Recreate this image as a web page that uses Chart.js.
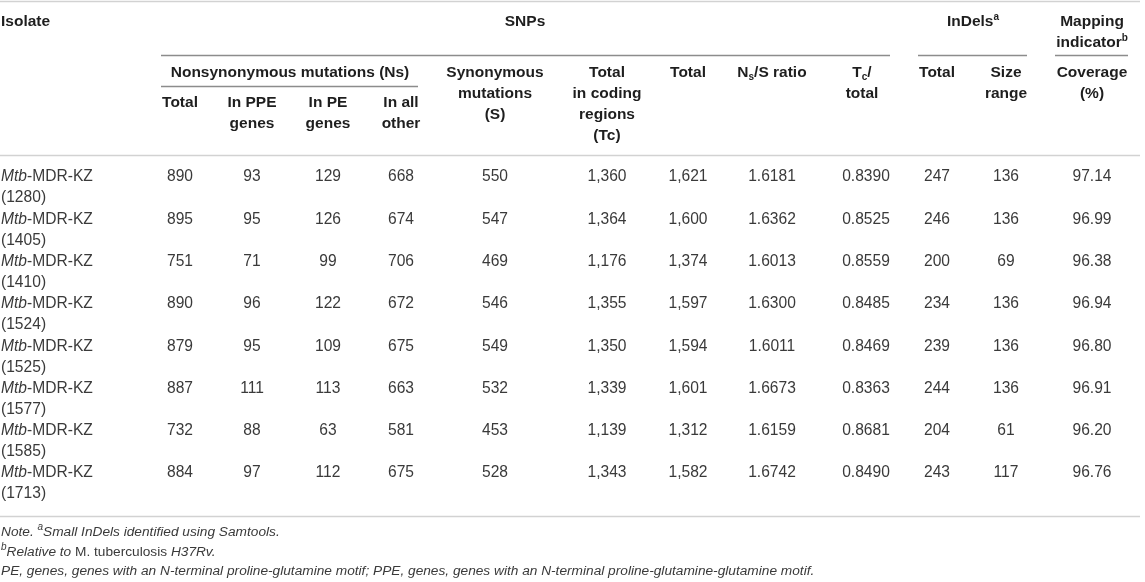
<!DOCTYPE html>
<html>
<head>
<meta charset="utf-8">
<script src="https://cdn.jsdelivr.net/npm/chart.js@4.4.1/dist/chart.umd.min.js"></script>
<style>
  html, body { margin: 0; padding: 0; background: #fff; }
  #wrap { width: 1145px; height: 582px; }
</style>
</head>
<body>
<div id="wrap"><canvas id="table"></canvas></div>
<script>
// table values, one array per column
const isolates = ['1280', '1405', '1410', '1524', '1525', '1577', '1585', '1713']
const nsTotal = [890, 895, 751, 890, 879, 887, 732, 884]
const nsPPE = [93, 95, 71, 96, 95, 111, 88, 97]
const nsPE = [129, 126, 99, 122, 109, 113, 63, 112]
const nsOther = [668, 674, 706, 672, 675, 663, 581, 675]
const synonymous = [550, 547, 469, 546, 549, 532, 453, 528]
const codingTotal = [1360, 1364, 1176, 1355, 1350, 1339, 1139, 1343]
const snpTotal = [1621, 1600, 1374, 1597, 1594, 1601, 1312, 1582]
const nsRatio = [1.6181, 1.6362, 1.6013, 1.6300, 1.6011, 1.6673, 1.6159, 1.6742]
const tcRatio = [0.8390, 0.8525, 0.8559, 0.8485, 0.8469, 0.8363, 0.8681, 0.8490]
const indelTotal = [247, 246, 200, 234, 239, 244, 204, 243]
const sizeRange = [136, 136, 69, 136, 136, 136, 61, 117]
const coverage = [97.14, 96.99, 96.38, 96.94, 96.80, 96.91, 96.20, 96.76]

const FAM = '"Liberation Sans", Arial, Helvetica, sans-serif'
const HEAD = '700 15.5px ' + FAM
const BODY = '15.6px ' + FAM
const ITAL = 'italic 15.6px ' + FAM
const NOTE = 'italic 13.7px ' + FAM
const NOTE_R = '13.7px ' + FAM
const SUP = '700 10px ' + FAM
const SUP_N = 'italic 10px ' + FAM

const int = v => v.toLocaleString('en-US')
const columns = [
  { values: nsTotal, fmt: int, x: 180 },
  { values: nsPPE, fmt: int, x: 252 },
  { values: nsPE, fmt: int, x: 328 },
  { values: nsOther, fmt: int, x: 401 },
  { values: synonymous, fmt: int, x: 495 },
  { values: codingTotal, fmt: int, x: 607 },
  { values: snpTotal, fmt: int, x: 688 },
  { values: nsRatio, fmt: v => v.toFixed(4), x: 772 },
  { values: tcRatio, fmt: v => v.toFixed(4), x: 866 },
  { values: indelTotal, fmt: int, x: 937 },
  { values: sizeRange, fmt: int, x: 1006 },
  { values: coverage, fmt: v => v.toFixed(2), x: 1092 }
]
const rowY = i => 177 + i * 42.3

// draw a line made of differently styled pieces
function runs (ctx, parts, x, y, align) {
  let w = 0
  parts.forEach(p => { ctx.font = p[1]; w += ctx.measureText(p[0]).width })
  let cx = align === 'center' ? x - w / 2 : x
  ctx.textAlign = 'left'
  parts.forEach(p => {
    ctx.font = p[1]
    ctx.fillText(p[0], cx, y + (p[2] || 0))
    cx += ctx.measureText(p[0]).width
  })
}

const tablePlugin = {
  id: 'tableText',
  afterDraw (chart) {
    const ctx = chart.ctx
    const sx = chart.scales.x
    const sy = chart.scales.y
    const X = v => sx.getPixelForValue(v)
    const Y = v => sy.getPixelForValue(v)
    ctx.save()
    ctx.textBaseline = 'middle'

    const rule = (x1, x2, y, color, w) => {
      ctx.strokeStyle = color
      ctx.lineWidth = w
      ctx.beginPath()
      ctx.moveTo(X(x1), Y(y))
      ctx.lineTo(X(x2), Y(y))
      ctx.stroke()
    }
    rule(0, 1140, 1.5, '#d2d2d2', 1.5)
    rule(0, 1140, 155.5, '#d2d2d2', 1.5)
    rule(0, 1140, 516.5, '#d2d2d2', 1.5)
    rule(161, 890, 55.5, '#8c8c8c', 1.3)
    rule(918, 1027, 55.5, '#8c8c8c', 1.3)
    rule(1055, 1128, 55.5, '#8c8c8c', 1.3)
    rule(161, 418, 86.5, '#8c8c8c', 1.3)

    // header
    ctx.fillStyle = '#1e1e1e'
    const head = (lines, x, y0) => {
      lines.forEach((l, k) => {
        const parts = Array.isArray(l) ? l : [[l, HEAD]]
        runs(ctx, parts, X(x), Y(y0 + k * 21), 'center')
      })
    }
    runs(ctx, [['Isolate', HEAD]], X(1), Y(22), 'left')
    head(['SNPs'], 525, 22)
    head([[['InDels', HEAD], ['a', SUP, -5]]], 973, 22)
    head(['Mapping', [['indicator', HEAD], ['b', SUP, -5]]], 1092, 22)
    head(['Nonsynonymous mutations (Ns)'], 290, 73)
    head(['Total'], 180, 103)
    head(['In PPE', 'genes'], 252, 103)
    head(['In PE', 'genes'], 328, 103)
    head(['In all', 'other'], 401, 103)
    head(['Synonymous', 'mutations', '(S)'], 495, 73)
    head(['Total', 'in coding', 'regions', '(Tc)'], 607, 73)
    head(['Total'], 688, 73)
    head([[['N', HEAD], ['s', SUP, 4], ['/S ratio', HEAD]]], 772, 73)
    head([[['T', HEAD], ['c', SUP, 4], ['/', HEAD]], 'total'], 862, 73)
    head(['Total'], 937, 73)
    head(['Size', 'range'], 1006, 73)
    head(['Coverage', '(%)'], 1092, 73)

    // body cells, positioned by the dataset elements
    ctx.fillStyle = '#3a3a3a'
    isolates.forEach((id, i) => {
      runs(ctx, [['Mtb', ITAL], ['-MDR-KZ', BODY]], X(1), Y(rowY(i)), 'left')
      runs(ctx, [['(' + id + ')', BODY]], X(1), Y(rowY(i) + 21), 'left')
    })
    ctx.font = BODY
    ctx.textAlign = 'center'
    chart.data.datasets.forEach((ds, d) => {
      const meta = chart.getDatasetMeta(d)
      meta.data.forEach((pt, i) => {
        ctx.fillText(columns[d].fmt(ds.values[i]), pt.x, pt.y)
      })
    })

    // footnotes
    ctx.fillStyle = '#3a3a3a'
    runs(ctx, [['Note. ', NOTE], ['a', SUP_N, -5], ['Small InDels identified using Samtools.', NOTE]], X(1), Y(532), 'left')
    runs(ctx, [['b', SUP_N, -5], ['Relative to ', NOTE], ['M. tuberculosis ', NOTE_R], ['H37Rv.', NOTE]], X(1), Y(552), 'left')
    runs(ctx, [['PE, genes, genes with an N-terminal proline-glutamine motif; PPE, genes, genes with an N-terminal proline-glutamine-glutamine motif.', NOTE]], X(1), Y(571), 'left')
    ctx.restore()
  }
}

new Chart(document.getElementById('table'), {
  type: 'scatter',
  data: {
    datasets: columns.map(c => ({
      values: c.values,
      data: c.values.map((v, i) => ({ x: c.x, y: rowY(i) })),
      pointRadius: 0,
      pointHoverRadius: 0
    }))
  },
  options: {
    responsive: true,
    maintainAspectRatio: false,
    animation: false,
    layout: { padding: 0 },
    events: [],
    plugins: { legend: { display: false }, tooltip: { enabled: false } },
    scales: {
      x: { type: 'linear', display: false, min: 0, max: 1145 },
      y: { type: 'linear', display: false, min: 0, max: 582, reverse: true }
    }
  },
  plugins: [tablePlugin]
})
</script>
</body>
</html>
